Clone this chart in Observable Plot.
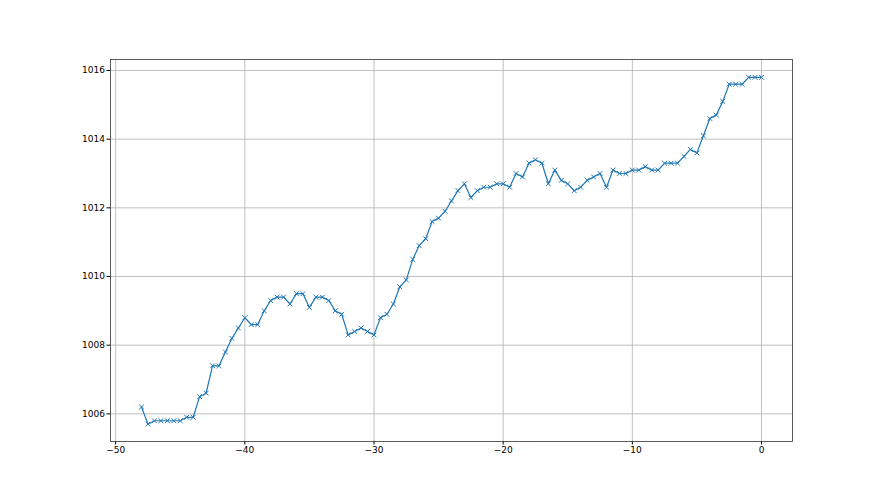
<!DOCTYPE html>
<html>
<head>
<meta charset="utf-8">
<script src="https://cdn.jsdelivr.net/npm/d3@7"></script>
<script src="https://cdn.jsdelivr.net/npm/@observablehq/plot@0.6"></script>
<style>
  html, body { margin: 0; padding: 0; background: #fff; }
  #chart svg { display: block; }
</style>
</head>
<body>
<div id="chart"></div>
<script>
const xStart = -48;
const xStep = 0.5;
const values = [
  1006.2, 1005.7, 1005.8, 1005.8, 1005.8, 1005.8, 1005.8, 1005.9, 1005.9, 1006.5,
  1006.6, 1007.4, 1007.4, 1007.8, 1008.2, 1008.5, 1008.8, 1008.6, 1008.6, 1009.0,
  1009.3, 1009.4, 1009.4, 1009.2, 1009.5, 1009.5, 1009.1, 1009.4, 1009.4, 1009.3,
  1009.0, 1008.9, 1008.3, 1008.4, 1008.5, 1008.4, 1008.3, 1008.8, 1008.9, 1009.2,
  1009.7, 1009.9, 1010.5, 1010.9, 1011.1, 1011.6, 1011.7, 1011.9, 1012.2, 1012.5,
  1012.7, 1012.3, 1012.5, 1012.6, 1012.6, 1012.7, 1012.7, 1012.6, 1013.0, 1012.9,
  1013.3, 1013.4, 1013.3, 1012.7, 1013.1, 1012.8, 1012.7, 1012.5, 1012.6, 1012.8,
  1012.9, 1013.0, 1012.6, 1013.1, 1013.0, 1013.0, 1013.1, 1013.1, 1013.2, 1013.1,
  1013.1, 1013.3, 1013.3, 1013.3, 1013.5, 1013.7, 1013.6, 1014.1, 1014.6, 1014.7,
  1015.1, 1015.6, 1015.6, 1015.6, 1015.8, 1015.8, 1015.8
];
const xTicks = [-50, -40, -30, -20, -10, 0];
const yTicks = [1006, 1008, 1010, 1012, 1014, 1016];

const data = values.map((v, i) => ({x: xStart + i * xStep, y: v}));

const chart = Plot.plot({
  width: 880,
  height: 495,
  marginLeft: 110,
  marginRight: 88,
  marginTop: 59,
  marginBottom: 54,
  style: {fontFamily: "DejaVu Sans", fontSize: "9px", color: "#000", background: "#fff"},
  x: {domain: [-50.4, 2.4], ticks: xTicks, tickSize: 3.5, tickPadding: 2, label: null, tickFormat: d => String(d).replace("-", "\u2212")},
  y: {domain: [1005.195, 1016.32], ticks: yTicks, tickSize: 3.5, tickPadding: 2, label: null, tickFormat: d => String(d)},
  marks: [
    Plot.gridX(xTicks, {stroke: "#b0b0b0", strokeOpacity: 1, strokeWidth: 0.8}),
    Plot.gridY(yTicks, {stroke: "#b0b0b0", strokeOpacity: 1, strokeWidth: 0.8}),
    Plot.line(data, {x: "x", y: "y", stroke: "#1f77b4", strokeWidth: 1.2}),
    Plot.dot(data, {x: "x", y: "y", symbol: "times", r: 2.3, stroke: "#1f77b4", strokeWidth: 1}),
    Plot.frame({stroke: "#333", strokeWidth: 0.8})
  ]
});
document.getElementById("chart").appendChild(chart);
</script>
</body>
</html>
